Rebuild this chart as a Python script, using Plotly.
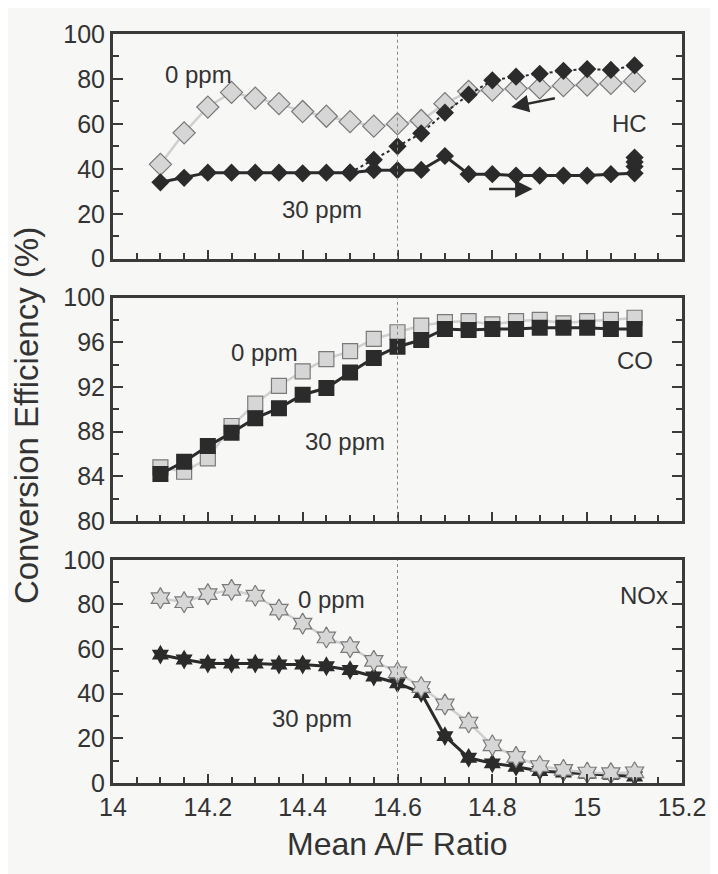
import plotly.graph_objects as go
from plotly.subplots import make_subplots

# mean A/F ratio of every measured point
x_af = [14.1, 14.15, 14.2, 14.25, 14.3, 14.35, 14.4, 14.45, 14.5, 14.55, 14.6,
        14.65, 14.7, 14.75, 14.8, 14.85, 14.9, 14.95, 15.0, 15.05, 15.1]

# HC conversion efficiency (%)
hc_0ppm = [42, 56, 67.5, 74, 71.5, 69, 65.5, 63.4, 61, 59, 60,
           61.5, 69, 74.5, 75, 75.7, 76, 77, 77.3, 78, 79]
hc_30ppm = [34, 36, 38.3, 38.3, 38.3, 38.3, 38, 38.3, 38.3, 39.4, 39.4,
            39.5, 45.7, 37.6, 37.6, 37, 37, 37, 37, 37.6, 38]
# 30 ppm, sweep back from lean to rich (dotted)
x_back = [14.5, 14.55, 14.6, 14.65, 14.7, 14.75, 14.8, 14.85, 14.9, 14.95, 15.0, 15.05, 15.1]
hc_30ppm_back = [38.3, 44, 50, 55.8, 65, 73, 79.4, 81, 82.3, 83.6, 84.4, 84, 86]
x_hc_end = [15.1, 15.1, 15.1]
hc_30ppm_end = [41, 43, 45]

# CO conversion efficiency (%)
co_0ppm = [84.8, 84.4, 85.6, 88.5, 90.5, 92.1, 93.4, 94.5, 95.2, 96.3, 96.9,
           97.5, 97.8, 97.9, 97.6, 97.9, 98, 97.7, 97.9, 98, 98.2]
co_30ppm = [84.2, 85.3, 86.7, 87.9, 89.2, 90.1, 91.3, 91.9, 93.3, 94.6, 95.6,
            96.2, 97.2, 97.1, 97.2, 97.2, 97.3, 97.3, 97.3, 97.2, 97.2]

# NOx conversion efficiency (%)
nox_0ppm = [82.8, 81, 84.6, 86.5, 83.9, 77.7, 71.4, 65.2, 60.9, 54.7, 49.6,
            43, 35.2, 27.1, 16.9, 11.7, 7.6, 5.9, 4.7, 4.4, 4.8]
nox_30ppm = [57.5, 55.3, 53.5, 53.5, 53.5, 53.1, 53.1, 52.3, 50.6, 47.7, 44.7,
             40.3, 21, 11.3, 8.8, 7.3, 5.4, 4.7, 4.1, 3.7, 2.9]

light_fill = "#d6d6d6"
light_edge = "#7a7a7a"
light_line = "#cfcfcf"
dark = "#2b2b2b"
axis_col = "#3a3a3a"
bg = "#f7f7f5"
font_fam = "Liberation Sans, Arial"

fig = make_subplots(rows=3, cols=1)

# HC panel
fig.add_trace(go.Scatter(x=x_af, y=hc_0ppm, mode="lines+markers",
                         line=dict(color=light_line, width=2.5),
                         marker=dict(symbol="diamond", size=17, color=light_fill,
                                     line=dict(color=light_edge, width=1.2))), row=1, col=1)
fig.add_trace(go.Scatter(x=x_back, y=hc_30ppm_back, mode="lines+markers",
                         line=dict(color=dark, width=2, dash="dot"),
                         marker=dict(symbol="diamond", size=14, color=dark)), row=1, col=1)
fig.add_trace(go.Scatter(x=x_af, y=hc_30ppm, mode="lines+markers",
                         line=dict(color=dark, width=3),
                         marker=dict(symbol="diamond", size=14, color=dark)), row=1, col=1)
fig.add_trace(go.Scatter(x=x_hc_end, y=hc_30ppm_end, mode="markers",
                         marker=dict(symbol="diamond", size=14, color=dark)), row=1, col=1)

# CO panel
fig.add_trace(go.Scatter(x=x_af, y=co_0ppm, mode="lines+markers",
                         line=dict(color=light_line, width=2.5),
                         marker=dict(symbol="square", size=15, color=light_fill,
                                     line=dict(color=light_edge, width=1.2))), row=2, col=1)
fig.add_trace(go.Scatter(x=x_af, y=co_30ppm, mode="lines+markers",
                         line=dict(color=dark, width=3),
                         marker=dict(symbol="square", size=16, color=dark)), row=2, col=1)

# NOx panel
fig.add_trace(go.Scatter(x=x_af, y=nox_30ppm, mode="lines+markers",
                         line=dict(color=dark, width=3),
                         marker=dict(symbol="hexagram", size=15, color=dark)), row=3, col=1)
fig.add_trace(go.Scatter(x=x_af, y=nox_0ppm, mode="lines+markers",
                         line=dict(color=light_line, width=2.5),
                         marker=dict(symbol="hexagram", size=16, color=light_fill,
                                     line=dict(color=light_edge, width=1.2))), row=3, col=1)

domains = [[0.700, 1.0], [0.350, 0.648], [0.0, 0.298]]
yranges = [[0, 100], [80, 100], [0, 100]]
ydticks = [20, 4, 20]
yminor = [10, 2, 10]

for i in range(3):
    fig.update_xaxes(range=[14, 15.2], dtick=0.2, tick0=14, ticks="inside", ticklen=9,
                     tickwidth=2, tickcolor=axis_col,
                     minor=dict(dtick=0.05, ticks="inside", ticklen=6, tickwidth=1.5, tickcolor=axis_col),
                     showline=True, linewidth=3, linecolor=axis_col, mirror=True,
                     showgrid=False, zeroline=False, showticklabels=(i == 2),
                     tickfont=dict(size=25, color="#333", family=font_fam),
                     row=i + 1, col=1)
    fig.update_yaxes(range=yranges[i], dtick=ydticks[i], ticks="inside", ticklen=10,
                     tickwidth=2, tickcolor=axis_col,
                     minor=dict(dtick=yminor[i], ticks="inside", ticklen=6, tickwidth=1.5, tickcolor=axis_col),
                     showline=True, linewidth=3, linecolor=axis_col, mirror="ticks",
                     showgrid=False, zeroline=False, domain=domains[i],
                     tickfont=dict(size=25, color="#333", family=font_fam),
                     row=i + 1, col=1)

# dotted reference line at stoichiometric A/F
for i in range(3):
    xr = "x" if i == 0 else "x" + str(i + 1)
    yr = "y domain" if i == 0 else "y" + str(i + 1) + " domain"
    fig.add_shape(type="line", xref=xr, yref=yr, x0=14.6, x1=14.6, y0=0, y1=1,
                  line=dict(color="#888", width=1, dash="dot"))

txt = dict(size=24, color="#333", family=font_fam)
labels = [
    ("0 ppm", 14.18, 82, "x", "y"),
    ("30 ppm", 14.44, 22, "x", "y"),
    ("HC", 15.09, 60, "x", "y"),
    ("0 ppm", 14.32, 95.1, "x2", "y2"),
    ("30 ppm", 14.49, 87.1, "x2", "y2"),
    ("CO", 15.1, 94.4, "x2", "y2"),
    ("0 ppm", 14.46, 82, "x3", "y3"),
    ("30 ppm", 14.42, 29, "x3", "y3"),
    ("NOx", 15.12, 84, "x3", "y3"),
]
for t, xx, yy, xr, yr in labels:
    fig.add_annotation(text=t, x=xx, y=yy, xref=xr, yref=yr, showarrow=False, font=txt)

# sweep direction arrows
fig.add_annotation(x=14.84, y=67.5, ax=14.935, ay=71.5, xref="x", yref="y", axref="x", ayref="y",
                   text="", showarrow=True, arrowhead=2, arrowsize=1.4, arrowwidth=2.5, arrowcolor=dark)
fig.add_annotation(x=14.885, y=31, ax=14.79, ay=31, xref="x", yref="y", axref="x", ayref="y",
                   text="", showarrow=True, arrowhead=2, arrowsize=1.4, arrowwidth=2.5, arrowcolor=dark)

# shared axis titles
fig.add_annotation(text="Conversion Efficiency (%)", x=-0.151, y=0.49, xref="paper", yref="paper",
                   textangle=-90, showarrow=False, xanchor="center", yanchor="middle",
                   font=dict(size=33, color="#333", family=font_fam))
fig.add_annotation(text="Mean A/F Ratio", x=0.5, y=-0.082, xref="paper", yref="paper",
                   showarrow=False, xanchor="center", yanchor="middle",
                   font=dict(size=32, color="#333", family=font_fam))

# page body adds an 8px offset, so the figure is drawn slightly smaller
fig.update_layout(width=710, height=866, showlegend=False,
                  margin=dict(l=105, r=34, t=14, b=91),
                  paper_bgcolor=bg, plot_bgcolor=bg)

fig.write_html("out.html")
